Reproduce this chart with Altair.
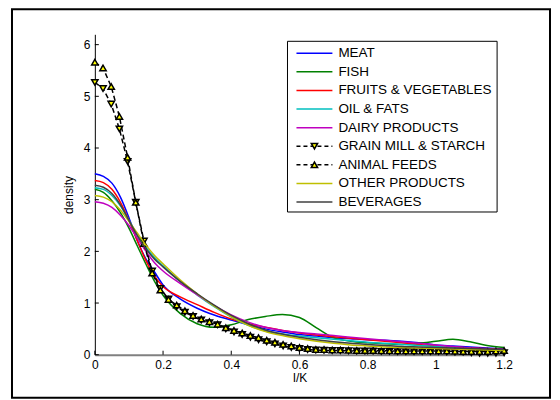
import altair as alt
import pandas as pd

SERIES = ["MEAT", "FISH", "FRUITS & VEGETABLES", "OIL & FATS", "DAIRY PRODUCTS",
          "GRAIN MILL & STARCH", "ANIMAL FEEDS", "OTHER PRODUCTS", "BEVERAGES"]
COLORS = ["#0000ff", "#008000", "#ff0000", "#00bfbf", "#bf00bf",
          "#000000", "#000000", "#bfbf00", "#404040"]
DASHED = ["GRAIN MILL & STARCH", "ANIMAL FEEDS"]
MARKERS = {"GRAIN MILL & STARCH": "triangle-down", "ANIMAL FEEDS": "triangle-up"}

X_TICKS = [0, 0.2, 0.4, 0.6, 0.8, 1.0, 1.2]
Y_TICKS = [0, 1, 2, 3, 4, 5, 6]

# grid for smooth coloured curves
X_C = [0, 0.025, 0.05, 0.075, 0.1, 0.125, 0.15, 0.175, 0.2, 0.25, 0.3, 0.35, 0.4, 0.45,
       0.5, 0.55, 0.6, 0.65, 0.7, 0.75, 0.8, 0.85, 0.9, 0.95, 1.0, 1.05, 1.1, 1.15, 1.2]

MEAT = [3.50, 3.45, 3.32, 3.05, 2.65, 2.20, 1.85, 1.60, 1.35, 1.08, 0.90, 0.77, 0.67, 0.58,
        0.50, 0.44, 0.39, 0.36, 0.33, 0.31, 0.29, 0.28, 0.26, 0.23, 0.19, 0.17, 0.15, 0.13, 0.11]
FISH = [3.20, 3.14, 2.98, 2.75, 2.45, 2.10, 1.75, 1.42, 1.15, 0.80, 0.60, 0.53, 0.58, 0.68,
        0.74, 0.78, 0.72, 0.52, 0.33, 0.26, 0.23, 0.21, 0.20, 0.22, 0.26, 0.30, 0.25, 0.18, 0.14]
FRUITS = [3.37, 3.33, 3.20, 2.95, 2.60, 2.20, 1.82, 1.52, 1.32, 1.12, 0.97, 0.82, 0.69, 0.60,
          0.53, 0.47, 0.42, 0.38, 0.35, 0.32, 0.29, 0.26, 0.23, 0.20, 0.17, 0.15, 0.13, 0.12, 0.10]
OIL = [3.23, 3.20, 3.08, 2.88, 2.60, 2.32, 2.08, 1.88, 1.72, 1.42, 1.16, 0.93, 0.73, 0.57,
       0.46, 0.40, 0.36, 0.33, 0.30, 0.27, 0.24, 0.22, 0.20, 0.18, 0.16, 0.14, 0.12, 0.10, 0.09]
DAIRY = [2.96, 2.93, 2.85, 2.70, 2.50, 2.25, 2.00, 1.78, 1.62, 1.38, 1.16, 0.95, 0.77, 0.63,
         0.53, 0.47, 0.43, 0.40, 0.37, 0.34, 0.31, 0.28, 0.25, 0.22, 0.19, 0.16, 0.13, 0.11, 0.10]
OTHER = [3.08, 3.05, 2.96, 2.80, 2.58, 2.35, 2.12, 1.92, 1.76, 1.45, 1.18, 0.94, 0.74, 0.57,
         0.45, 0.37, 0.31, 0.26, 0.22, 0.19, 0.17, 0.15, 0.14, 0.13, 0.12, 0.11, 0.10, 0.09, 0.08]
BEVERAGES = [3.28, 3.24, 3.12, 2.90, 2.60, 2.30, 2.05, 1.85, 1.70, 1.42, 1.18, 0.96, 0.76, 0.60,
             0.48, 0.40, 0.34, 0.29, 0.25, 0.22, 0.20, 0.18, 0.16, 0.15, 0.14, 0.13, 0.12, 0.11, 0.10]

# grid for the two marker series (step 0.024)
X_M = [round(i * 0.024, 3) for i in range(51)]
GRAIN = [5.27, 5.15, 4.85, 4.37, 3.74, 2.95, 2.20, 1.62, 1.28, 1.08, 0.93, 0.82, 0.74, 0.67,
         0.62, 0.58, 0.50, 0.44, 0.39, 0.34, 0.29, 0.25, 0.21, 0.17, 0.14, 0.12, 0.10, 0.09,
         0.085, 0.08, 0.08, 0.075, 0.07, 0.07, 0.07, 0.065, 0.065, 0.06, 0.06, 0.06, 0.06,
         0.06, 0.06, 0.055, 0.05, 0.05, 0.04, 0.03, 0.03, 0.03, 0.04]
FEEDS = [5.66, 5.55, 5.19, 4.61, 3.82, 2.95, 2.15, 1.58, 1.25, 1.07, 0.96, 0.85, 0.76, 0.69,
         0.64, 0.59, 0.52, 0.47, 0.42, 0.37, 0.33, 0.28, 0.24, 0.20, 0.17, 0.14, 0.12, 0.10,
         0.10, 0.09, 0.09, 0.085, 0.08, 0.08, 0.08, 0.075, 0.075, 0.07, 0.07, 0.07, 0.07,
         0.07, 0.07, 0.07, 0.065, 0.06, 0.06, 0.06, 0.06, 0.07, 0.08]

VALUES = {"MEAT": (X_C, MEAT), "FISH": (X_C, FISH), "FRUITS & VEGETABLES": (X_C, FRUITS),
          "OIL & FATS": (X_C, OIL), "DAIRY PRODUCTS": (X_C, DAIRY),
          "GRAIN MILL & STARCH": (X_M, GRAIN), "ANIMAL FEEDS": (X_M, FEEDS),
          "OTHER PRODUCTS": (X_C, OTHER), "BEVERAGES": (X_C, BEVERAGES)}

rows = []
for name in SERIES:
    xs, ys = VALUES[name]
    for x, y in zip(xs, ys):
        rows.append({"series": name, "x": x, "y": y})
df = pd.DataFrame(rows)

FONT = "Liberation Sans"
xscale = alt.Scale(domain=[0, 1.2], nice=False, zero=False)
yscale = alt.Scale(domain=[0, 6.2], nice=False, zero=False)

xaxis = alt.Axis(title="I/K", values=X_TICKS, format="~g", ticks=False, grid=False,
                 domainColor="#808080", domainWidth=2, labelFontSize=12, labelColor="black",
                 labelPadding=5, titleFontSize=12, titleFontWeight="normal", titleColor="black",
                 titlePadding=2, labelFont=FONT, titleFont=FONT, labelFlush=False)
yaxis = alt.Axis(title="density", values=Y_TICKS, format="d", ticks=False, grid=False,
                 domainColor="black", domainWidth=1, labelFontSize=12, labelColor="black",
                 labelPadding=5, titleFontSize=12, titleFontWeight="normal", titleColor="black",
                 titlePadding=8, labelFont=FONT, titleFont=FONT, labelFlush=False)

X_ENC = alt.X("x:Q", scale=xscale, axis=xaxis, title="I/K")
Y_ENC = alt.Y("y:Q", scale=yscale, axis=yaxis, title="density")

# inward tick marks drawn from the tick value lists
xt = pd.DataFrame({"x": X_TICKS})
yt = pd.DataFrame({"y": Y_TICKS})
xtick_layer = alt.Chart(xt).mark_rule(color="black", strokeWidth=1).encode(
    x=X_ENC, y=alt.value(321), y2=alt.value(317))
ytick_layer = alt.Chart(yt).mark_rule(color="black", strokeWidth=1).encode(
    y=Y_ENC, x=alt.value(0), x2=alt.value(4))

layers = [xtick_layer, ytick_layer]
for name, col in zip(SERIES, COLORS):
    base = alt.Chart(df).transform_filter(alt.FieldEqualPredicate(field="series", equal=name))
    if name in DASHED:
        layers.append(base.mark_line(color="black", strokeWidth=1.5, strokeDash=[5, 3]).encode(
            x=X_ENC, y=Y_ENC))
        layers.append(base.mark_point(shape=MARKERS[name], filled=True, fill="#ffff00",
                                      stroke="black", strokeWidth=1.5, size=40, opacity=1).encode(
            x=X_ENC, y=Y_ENC))
    else:
        layers.append(base.mark_line(color=col, strokeWidth=1.5, interpolate="monotone").encode(
            x=X_ENC, y=Y_ENC))

frame = alt.Chart(pd.DataFrame({"a": [0]})).mark_rect(
    fill=None, stroke="black", strokeWidth=2).encode(
    x=alt.value(-83), x2=alt.value(456), y=alt.value(-25), y2=alt.value(364))
layers.append(frame)

curves = alt.layer(*layers)

# legend
leg = pd.DataFrame({
    "name": SERIES,
    "idx": list(range(len(SERIES))),
    "dashed": [n in DASHED for n in SERIES],
    "marker": [MARKERS.get(n, "none") for n in SERIES],
})
lscale = alt.Scale(domain=[0, 8], range=[19, 168])
cscale = alt.Scale(domain=SERIES, range=COLORS)
ly = alt.Y("idx:Q", scale=lscale, axis=None)

box = alt.Chart(pd.DataFrame({"a": [0]})).mark_rect(
    fill="white", stroke="black", strokeWidth=1).encode(
    x=alt.value(193), x2=alt.value(403), y=alt.value(7), y2=alt.value(178))
solid = alt.Chart(leg).transform_filter("!datum.dashed").mark_rule(strokeWidth=1.5).encode(
    x=alt.value(202), x2=alt.value(238), y=ly,
    color=alt.Color("name:N", scale=cscale, legend=None))
dashed = alt.Chart(leg).transform_filter("datum.dashed").mark_rule(
    strokeWidth=1.5, strokeDash=[4, 3], color="black").encode(
    x=alt.value(202), x2=alt.value(238), y=ly)
marks = alt.Chart(leg).transform_filter("datum.dashed").mark_point(
    filled=True, fill="#ffff00", stroke="black", strokeWidth=1.5, size=40, opacity=1).encode(
    x=alt.value(220), y=ly,
    shape=alt.Shape("marker:N", scale=alt.Scale(domain=["triangle-down", "triangle-up"],
                                                 range=["triangle-down", "triangle-up"]),
                    legend=None))
texts = alt.Chart(leg).mark_text(align="left", baseline="middle", fontSize=13.5, font=FONT,
                                 color="black").encode(
    x=alt.value(244), y=ly, text="name:N")
legend = alt.layer(box, solid, dashed, marks, texts)

chart = alt.layer(curves, legend).resolve_scale(y="independent").properties(
    width=410, height=321, autosize="none",
    padding={"left": 87, "top": 26, "right": 48, "bottom": 45},
    background="white",
).configure_view(stroke=None)

chart.save("out.html", embed_options={"renderer": "svg", "actions": False})
